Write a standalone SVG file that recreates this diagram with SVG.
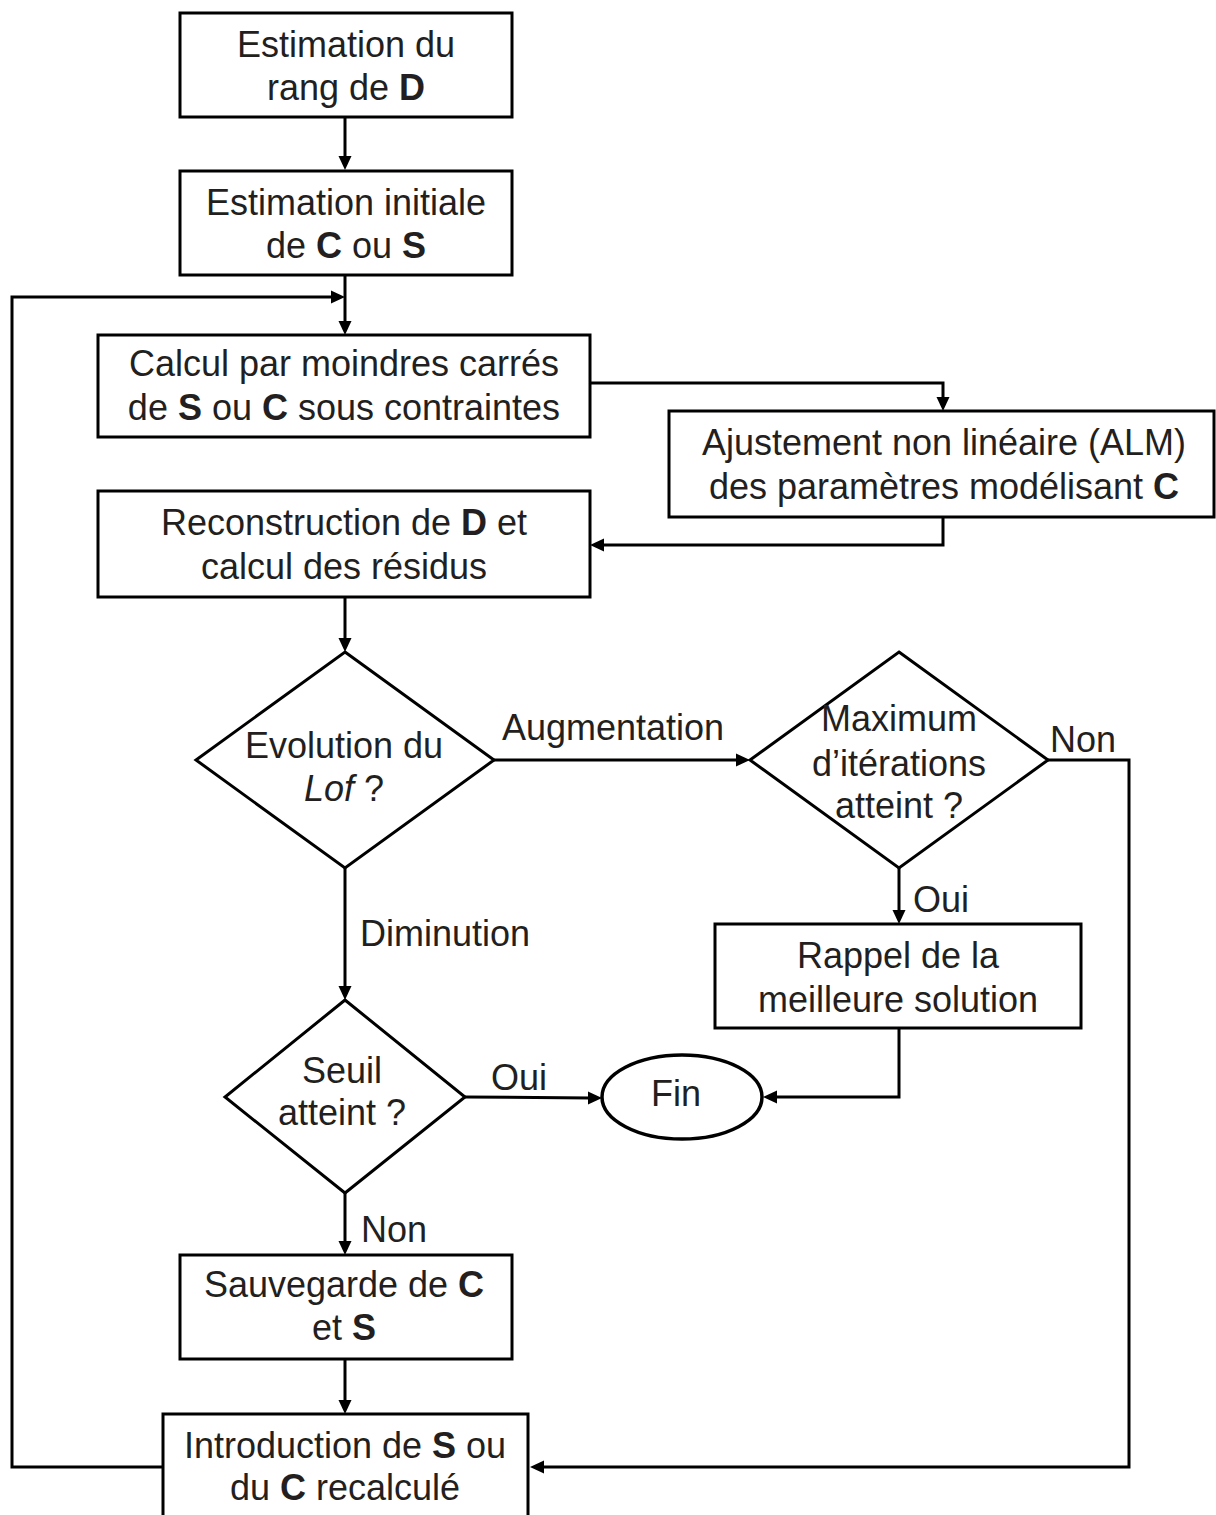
<svg xmlns="http://www.w3.org/2000/svg" width="1216" height="1515" viewBox="0 0 1216 1515">
<style>
.box{fill:#fff;stroke:#000;stroke-width:3}
.ar{fill:none;stroke:#000;stroke-width:3}
.ah{fill:#000}
text{font-family:"Liberation Sans",Arial,sans-serif;font-size:36px;fill:#231f20;text-anchor:middle}
.l{text-anchor:start}
.b{font-weight:bold}
.i{font-style:italic}
</style>
<defs>
<path id="hd" d="M0,0 L-14,-6.5 L-14,6.5 z"/>
<path id="hu" d="M0,0 L-6.5,-14 L6.5,-14 z"/>
<path id="hl" d="M0,0 L14,-6.5 L14,6.5 z"/>
</defs>
<rect width="1216" height="1515" fill="#fff"/>
<g id="connectors">
<path class="ar" d="M345,117 V158"/>
<path class="ar" d="M345,275 V323"/>
<path class="ar" d="M163,1467 H12 V297 H333"/>
<path class="ar" d="M590,383 H943 V399"/>
<path class="ar" d="M943,517 V545 H602"/>
<path class="ar" d="M345,597 V640"/>
<path class="ar" d="M494,760 H738"/>
<path class="ar" d="M1048,760 H1129 V1467 H542"/>
<path class="ar" d="M899,868 V912"/>
<path class="ar" d="M899,1028 V1097 H775"/>
<path class="ar" d="M465,1097 L590,1098"/>
<path class="ar" d="M345,868 V988"/>
<path class="ar" d="M345,1193 V1243"/>
<path class="ar" d="M345,1358 V1402"/>
<g class="ah">
<use href="#hu" x="345" y="170"/>
<use href="#hu" x="345" y="335"/>
<use href="#hd" x="345" y="297"/>
<use href="#hu" x="943" y="411"/>
<use href="#hl" x="590" y="545"/>
<use href="#hu" x="345" y="652"/>
<use href="#hd" x="750" y="760"/>
<use href="#hl" x="530" y="1467"/>
<use href="#hu" x="899" y="924"/>
<use href="#hl" x="763" y="1097"/>
<use href="#hd" x="602" y="1098"/>
<use href="#hu" x="345" y="1000"/>
<use href="#hu" x="345" y="1255"/>
<use href="#hu" x="345" y="1414"/>
</g>
<text x="613" y="740">Augmentation</text>
<text class="l" x="1050" y="752">Non</text>
<text class="l" x="913" y="912">Oui</text>
<text x="519" y="1090">Oui</text>
<text class="l" x="360" y="946">Diminution</text>
<text class="l" x="361" y="1242">Non</text>
</g>
<g id="n1">
<rect class="box" x="180" y="13" width="332" height="104"/>
<text x="346" y="57">Estimation du</text>
<text x="346" y="100">rang de <tspan class="b">D</tspan></text>
</g>
<g id="n2">
<rect class="box" x="180" y="171" width="332" height="104"/>
<text x="346" y="215">Estimation initiale</text>
<text x="346" y="258">de <tspan class="b">C</tspan> ou <tspan class="b">S</tspan></text>
</g>
<g id="n3">
<rect class="box" x="98" y="335" width="492" height="102"/>
<text x="344" y="376">Calcul par moindres carrés</text>
<text x="344" y="420">de <tspan class="b">S</tspan> ou <tspan class="b">C</tspan> sous contraintes</text>
</g>
<g id="n4">
<rect class="box" x="669" y="411" width="545" height="106"/>
<text x="944" y="455">Ajustement non linéaire (ALM)</text>
<text x="944" y="499">des paramètres modélisant <tspan class="b">C</tspan></text>
</g>
<g id="n5">
<rect class="box" x="98" y="491" width="492" height="106"/>
<text x="344" y="535">Reconstruction de <tspan class="b">D</tspan> et</text>
<text x="344" y="579">calcul des résidus</text>
</g>
<g id="n6">
<polygon class="box" points="345,652 494,760 345,868 196,760"/>
<text x="344" y="758">Evolution du</text>
<text x="344" y="801"><tspan class="i">Lof</tspan> ?</text>
</g>
<g id="n7">
<polygon class="box" points="899,652 1048,760 899,868 750,760"/>
<text x="899" y="731">Maximum</text>
<text x="899" y="776">d’itérations</text>
<text x="899" y="818">atteint ?</text>
</g>
<g id="n8">
<rect class="box" x="715" y="924" width="366" height="104"/>
<text x="898" y="968">Rappel de la</text>
<text x="898" y="1012">meilleure solution</text>
</g>
<g id="n9">
<ellipse cx="682" cy="1097" rx="80" ry="42" fill="#fff" stroke="#000" stroke-width="3.5"/>
<text x="676" y="1106">Fin</text>
</g>
<g id="n10">
<polygon class="box" points="345,1000 465,1097 345,1193 225,1097"/>
<text x="342" y="1083">Seuil</text>
<text x="342" y="1125">atteint ?</text>
</g>
<g id="n11">
<rect class="box" x="180" y="1255" width="332" height="104"/>
<text x="344" y="1297">Sauvegarde de <tspan class="b">C</tspan></text>
<text x="344" y="1340">et <tspan class="b">S</tspan></text>
</g>
<g id="n12">
<rect class="box" x="163" y="1414" width="365" height="110"/>
<text x="345" y="1458">Introduction de <tspan class="b">S</tspan> ou</text>
<text x="345" y="1500">du <tspan class="b">C</tspan> recalculé</text>
</g>
</svg>
